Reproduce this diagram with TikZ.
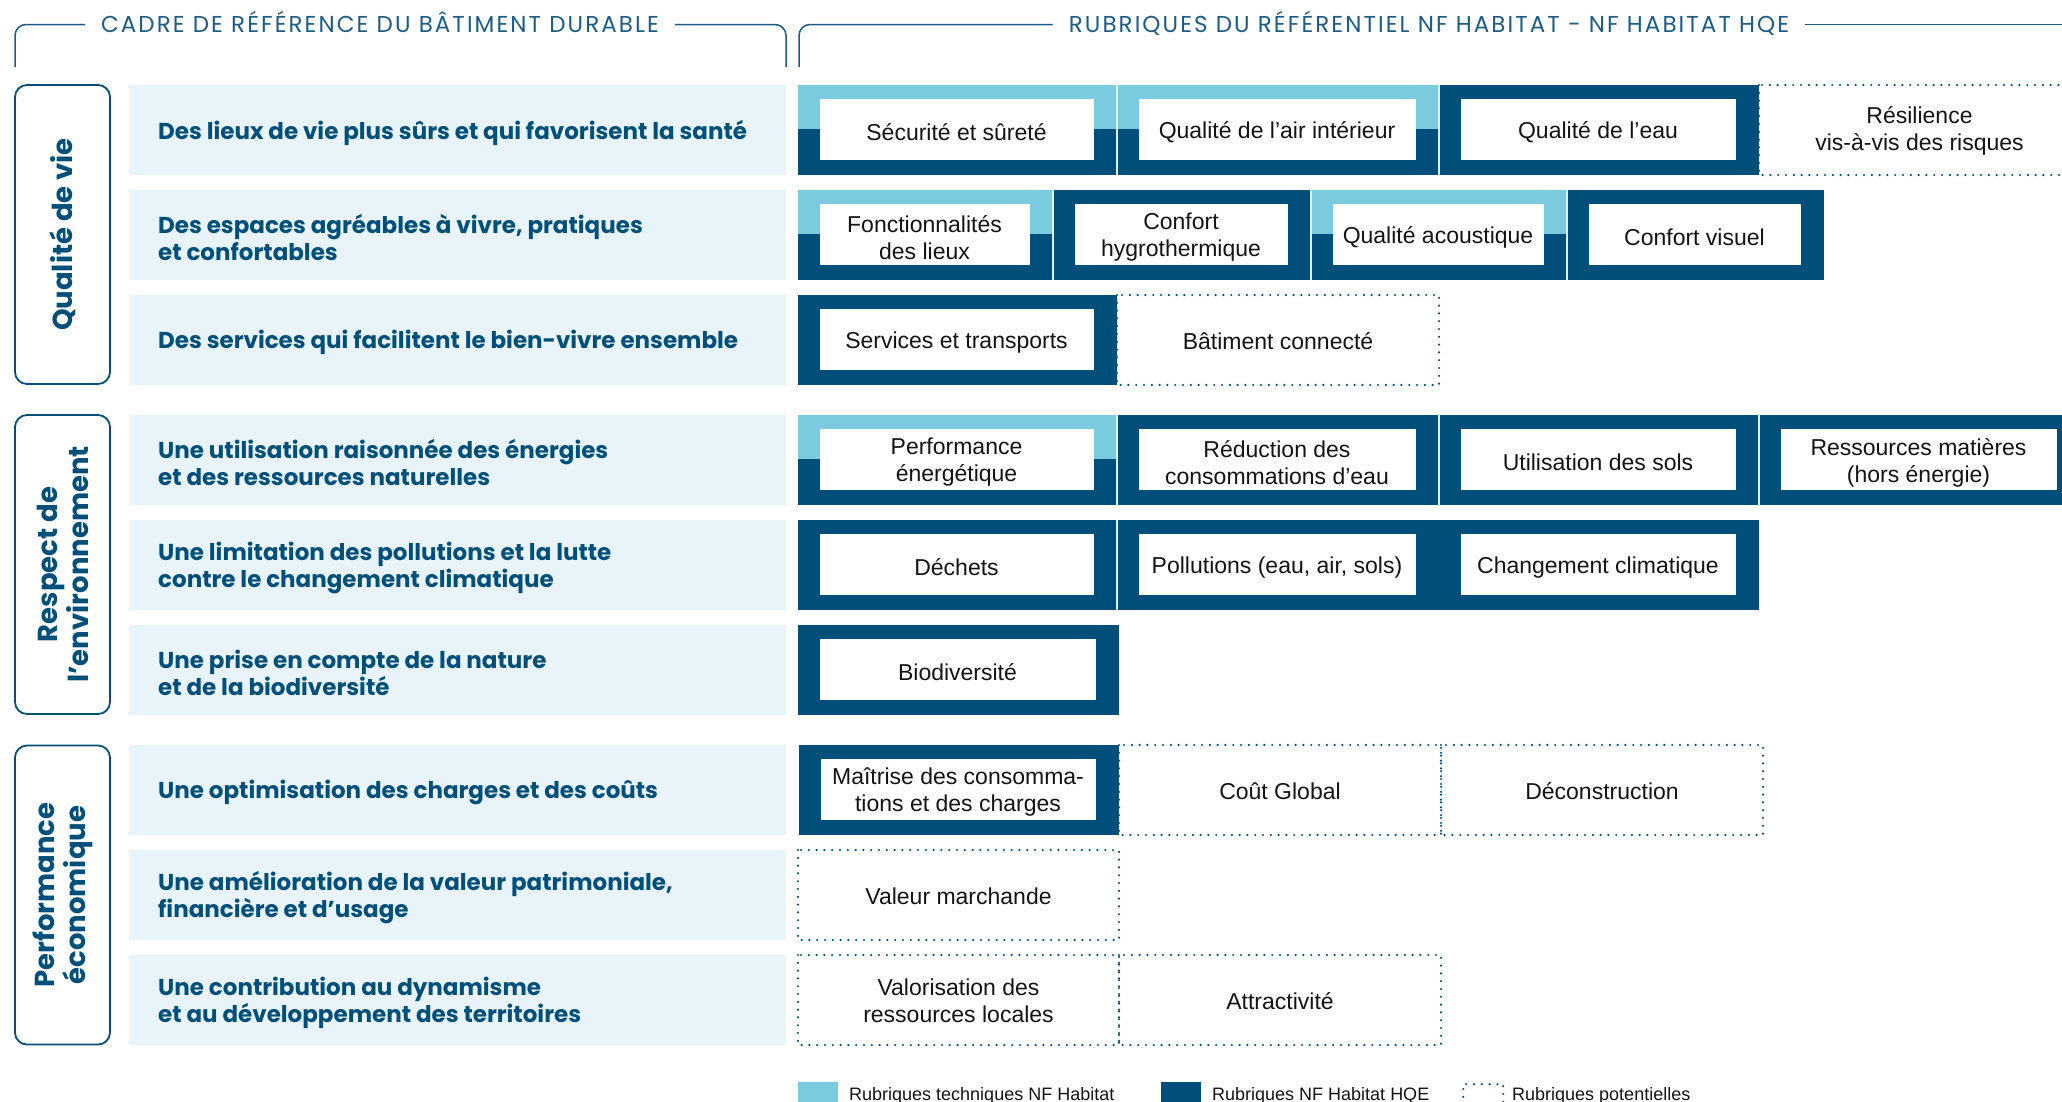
\documentclass[tikz,border=0pt]{standalone}
\usepackage{fontspec}
\setmainfont{Liberation Sans}
\newfontfamily\popfont{Poppins}
\newfontfamily\hdrfont{Poppins}[LetterSpace=9]
\definecolor{dkblue}{HTML}{004F7A}
\definecolor{ltblue}{HTML}{7BCBE0}
\definecolor{band}{HTML}{E8F4FA}
\definecolor{hdrcol}{HTML}{1D5C87}
\definecolor{boxtext}{HTML}{141414}
\tikzset{
  whitebox/.style={fill=white, inner sep=0pt, minimum height=61pt, align=center,
    text=boxtext, font=\fontsize{23}{27}\selectfont},
  plaintext/.style={inner sep=0pt, align=center, text=boxtext, font=\fontsize{23}{27}\selectfont},
  dotbox/.style={draw=dkblue, line width=2.4pt, dash pattern=on 0pt off 7.8pt, line cap=round},
  sepline/.style={draw=white!75!ltblue, line width=1.3pt},
  rowband/.style={fill=band, draw=none, inner sep=0pt, minimum width=657pt, minimum height=90pt},
  rowtext/.style={anchor=west, inner sep=0pt, align=left, text=dkblue,
    font=\popfont\bfseries\fontsize{23}{27}\selectfont},
  catbox/.style={draw=dkblue, line width=1.8pt, rounded corners=12pt, minimum width=95pt,
    minimum height=299pt, inner sep=0pt},
  cattext/.style={rotate=90, align=center, text=dkblue, inner sep=0pt,
    font=\popfont\bfseries\fontsize{27.5}{31}\selectfont},
  hdr/.style={inner xsep=16pt, inner ysep=0pt, text height=15pt, text depth=0pt, text=hdrcol,
    font=\hdrfont\fontsize{23}{23}\selectfont},
  bracket/.style={draw=hdrcol, line width=1.5pt, rounded corners=11pt},
  legsq/.style={minimum width=40pt, minimum height=40pt, inner sep=0pt, anchor=north west},
  legtext/.style={anchor=base west, inner sep=0pt, text=boxtext, font=\fontsize{18}{18}\selectfont},
}
% filled rubric: name, x0, y0, x1, y1, split(1/0), text
\newcommand\RubFill[7]{%
  \fill[dkblue] (#2,#3) rectangle (#4,#5);
  \ifnum#6=1 \fill[ltblue] (#2,#3) rectangle (#4,{(#3+#5)/2-1});\fi
  \fill[white] ({#2+22},{#3+14}) rectangle ({#4-23},{#5-15});
  \node[plaintext] (#1) at ({(#2+#4)/2-1},{(#3+#5)/2+2.5}) {#7};
}
% potential rubric (dotted): name, x0, y0, x1, y1, text
\newcommand\RubDot[6]{%
  \draw[dotbox] (#2,#3) rectangle (#4,#5);
  \node[plaintext] (#1) at ({(#2+#4)/2},{(#3+#5)/2+1}) {#6};
}
\newcommand\Sep[3]{\draw[sepline] (#1,#2) -- (#1,#3);}
\begin{document}
\begin{tikzpicture}[x=1pt,y=-1pt]
\useasboundingbox (0,0) rectangle (2062,1101);
\clip (0,0) rectangle (2062,1101);

% ---------- headers ----------
\node[hdr, anchor=center] (hL) at (380,24.5) {CADRE DE RÉFÉRENCE DU BÂTIMENT DURABLE};
\node[hdr, anchor=center] (hR) at (1429,24.5) {RUBRIQUES DU RÉFÉRENTIEL NF HABITAT - NF HABITAT HQE};
\coordinate (bL1) at (15,67);
\coordinate (bL2) at (786,67);
\coordinate (bR1) at (799,67);
\coordinate (bR2) at (2075,24.5);
\draw[bracket] (bL1) |- (hL.west);
\draw[bracket] (bL2) |- (hL.east);
\draw[bracket] (bR1) |- (hR.west);
\draw[bracket] (hR.east) -- (bR2);

% ---------- category boxes ----------
\node[catbox] (c1) at (62.5,234.5) {};
\node[catbox] (c2) at (62.5,564.5) {};
\node[catbox] (c3) at (62.5,895) {};
\node[cattext] (c1t) at (c1) {Qualité de vie};
\node[cattext] (c2t) at (c2) {Respect de\\l’environnement};
\node[cattext] (c3t) at (c3) {Performance\\économique};

% ---------- row bands ----------
\foreach \n/\yc in {1/130,2/235,3/340,4/460,5/565,6/670,7/790,8/895,9/1000}{
  \node[rowband] (band\n) at (457.5,\yc) {};
}
\node[rowtext] (t1) at (158,132.5) {Des lieux de vie plus sûrs et qui favorisent la santé};
\node[rowtext] (t2) at (158,237.5) {Des espaces agréables à vivre, pratiques\\et confortables};
\node[rowtext] (t3) at (158,342.5) {Des services qui facilitent le bien-vivre ensemble};
\node[rowtext] (t4) at (158,462.5) {Une utilisation raisonnée des énergies\\et des ressources naturelles};
\node[rowtext] (t5) at (158,567.5) {Une limitation des pollutions et la lutte\\contre le changement climatique};
\node[rowtext] (t6) at (158,672.5) {Une prise en compte de la nature\\et de la biodiversité};
\node[rowtext] (t7) at (158,792.5) {Une optimisation des charges et des coûts};
\node[rowtext] (t8) at (158,897.5) {Une amélioration de la valeur patrimoniale,\\financière et d’usage};
\node[rowtext] (t9) at (158,1002.5) {Une contribution au dynamisme\\et au développement des territoires};

% ---------- rubrics ----------
% row 1
\RubFill{r11}{798}{85}{1117}{175}{1}{Sécurité et sûreté}
\RubFill{r12}{1117}{85}{1439}{175}{1}{Qualité de l’air intérieur}
\RubFill{r13}{1439}{85}{1759}{175}{0}{Qualité de l’eau}
\RubDot{r14}{1759}{85}{2080}{175}{Résilience\\vis-à-vis des risques}
\Sep{1117}{85}{175}\Sep{1439}{85}{175}
% row 2
\RubFill{r21}{798}{190}{1053}{280}{1}{Fonctionnalités\\des lieux}
\RubFill{r22}{1053}{190}{1311}{280}{0}{Confort\\hygrothermique}
\RubFill{r23}{1311}{190}{1567}{280}{1}{Qualité acoustique}
\RubFill{r24}{1567}{190}{1824}{280}{0}{Confort visuel}
\Sep{1053}{190}{280}\Sep{1311}{190}{280}\Sep{1567}{190}{280}
% row 3
\RubFill{r31}{798}{295}{1117}{385}{0}{Services et transports}
\RubDot{r32}{1117}{295}{1439}{385}{Bâtiment connecté}
% row 4
\RubFill{r41}{798}{415}{1117}{505}{1}{Performance\\énergétique}
\RubFill{r42}{1117}{415}{1439}{505}{0}{Réduction des\\consommations d’eau}
\RubFill{r43}{1439}{415}{1759}{505}{0}{Utilisation des sols}
\RubFill{r44}{1759}{415}{2080}{505}{0}{Ressources matières\\(hors énergie)}
\Sep{1117}{415}{505}\Sep{1439}{415}{505}\Sep{1759}{415}{505}
% row 5
\RubFill{r51}{798}{520}{1117}{610}{0}{Déchets}
\RubFill{r52}{1117}{520}{1439}{610}{0}{Pollutions (eau, air, sols)}
\RubFill{r53}{1439}{520}{1759}{610}{0}{Changement climatique}
\Sep{1117}{520}{610}
% row 6
\RubFill{r61}{798}{625}{1119}{715}{0}{Biodiversité}
% row 7
\RubFill{r71}{799}{745}{1119}{835}{0}{Maîtrise des consomma-\\tions et des charges}
\RubDot{r72}{1119}{745}{1441}{835}{Coût Global}
\RubDot{r73}{1441}{745}{1763}{835}{Déconstruction}
% row 8
\RubDot{r81}{798}{850}{1119}{940}{Valeur marchande}
% row 9
\RubDot{r91}{798}{955}{1119}{1045}{Valorisation des\\ressources locales}
\RubDot{r92}{1119}{955}{1441}{1045}{Attractivité}

% ---------- legend ----------
\node[legsq, fill=ltblue] (lg1) at (798,1082) {};
\node[legtext] (lg1t) at (849,1100) {Rubriques techniques NF Habitat};
\node[legsq, fill=dkblue] (lg2) at (1161,1082) {};
\node[legtext] (lg2t) at (1212,1100) {Rubriques NF Habitat HQE};
\node[legsq, dotbox] (lg3) at (1462,1083) {};
\node[legtext] (lg3t) at (1512,1100) {Rubriques potentielles};
\end{tikzpicture}
\end{document}
